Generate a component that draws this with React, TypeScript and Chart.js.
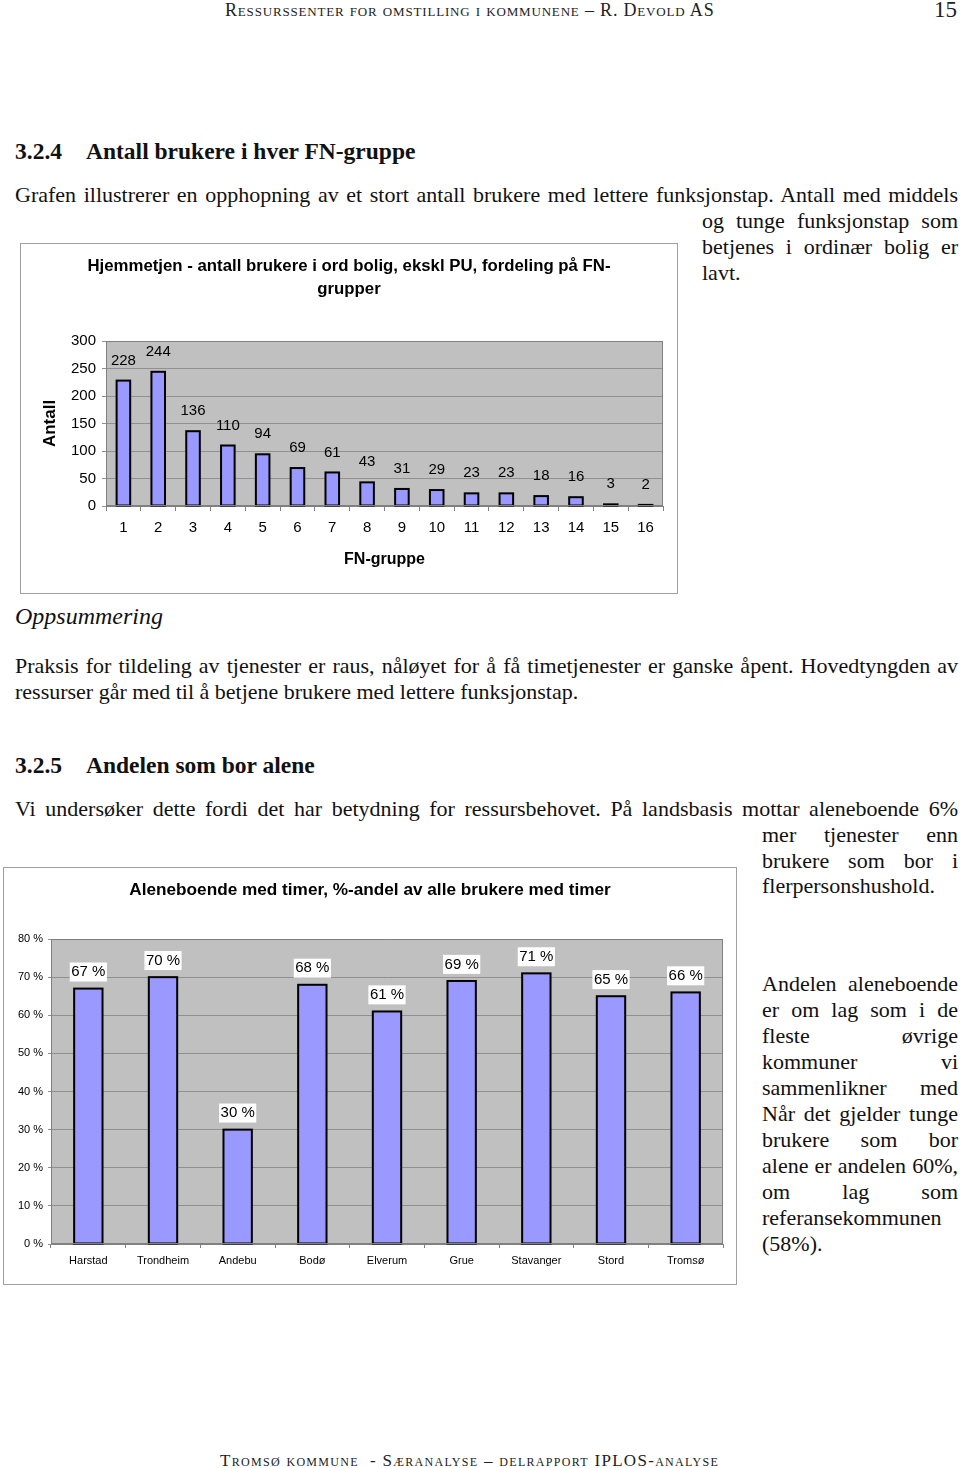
import React, { useEffect, useRef } from "react";
import { Chart, registerables } from "chart.js";

Chart.register(...registerables);

// ---------- Data ----------
const fnGroups = ["1", "2", "3", "4", "5", "6", "7", "8", "9", "10", "11", "12", "13", "14", "15", "16"];
const fnCounts = [228, 244, 136, 110, 94, 69, 61, 43, 31, 29, 23, 23, 18, 16, 3, 2];
const fnTitle = ["Hjemmetjen - antall brukere i ord bolig, ekskl PU, fordeling på FN-", "grupper"];
const fnYTitle = "Antall";
const fnXTitle = "FN-gruppe";

const municipalities = ["Harstad", "Trondheim", "Andebu", "Bodø", "Elverum", "Grue", "Stavanger", "Stord", "Tromsø"];
const aloneShare = [67, 70, 30, 68, 61, 69, 71, 65, 66];
const aloneTitle = "Aleneboende med timer, %-andel av alle brukere med timer";

const AX = "Arial, 'Liberation Sans', Helvetica, sans-serif";
const SERIF = "'Liberation Serif', 'Times New Roman', serif";

const plotBg = {
  id: "plotBg",
  beforeDraw(chart: any) {
    const { ctx, chartArea: a } = chart;
    ctx.save();
    ctx.fillStyle = "#C0C0C0";
    ctx.fillRect(a.left, a.top, a.right - a.left, a.bottom - a.top);
    ctx.restore();
  },
  afterDraw(chart: any) {
    const { ctx, chartArea: a } = chart;
    ctx.save();
    ctx.strokeStyle = "#808080";
    ctx.lineWidth = 1;
    ctx.strokeRect(a.left + 0.5, a.top + 0.5, a.right - a.left - 1, a.bottom - a.top - 1);
    ctx.restore();
  },
};

// Excel-style bar outlines (centred on the bar edge) and value labels
const valueLabels = {
  id: "valueLabels",
  afterDatasetsDraw(chart: any, _args: any, opts: any) {
    const { ctx } = chart;
    const meta = chart.getDatasetMeta(0);
    const data = chart.data.datasets[0].data;
    ctx.save();
    ctx.strokeStyle = "#000000";
    ctx.lineWidth = 2;
    meta.data.forEach((bar: any) => {
      const p = bar.getProps(["x", "y", "base", "width"], true);
      ctx.strokeRect(p.x - p.width / 2, p.y, p.width, p.base - p.y);
    });
    ctx.font = `${opts.size}px ${AX}`;
    ctx.textAlign = "center";
    ctx.textBaseline = "middle";
    meta.data.forEach((bar: any, i: number) => {
      const txt = String(data[i]) + (opts.suffix || "");
      const y = bar.y - opts.offset;
      if (opts.box) {
        const w = ctx.measureText(txt).width + 3;
        ctx.fillStyle = "#FFFFFF";
        ctx.fillRect(bar.x - w / 2, y - 9.5, w, 19);
      }
      ctx.fillStyle = "#000000";
      ctx.fillText(txt, bar.x, y);
    });
    ctx.restore();
  },
};

// an empty right-hand box so the chart title stays centred on the whole frame
const rightSpacer = (w: number) => ({
  type: "linear",
  position: "right",
  display: true,
  grid: { display: false, drawTicks: false },
  ticks: { display: false },
  border: { display: false },
  afterFit: (s: any) => {
    s.width = w;
  },
});

function FnChart() {
  const ref = useRef<HTMLCanvasElement>(null);
  useEffect(() => {
    const chart = new Chart(ref.current!, {
      type: "bar",
      data: {
        labels: fnGroups,
        datasets: [
          {
            data: fnCounts,
            backgroundColor: "#9999FF",
            borderWidth: 0,
            barPercentage: 0.39,
            categoryPercentage: 1,
            yAxisID: "y",
          },
        ],
      },
      options: {
        animation: false,
        responsive: false,
        maintainAspectRatio: false,
        layout: { padding: 0 },
        plugins: {
          legend: { display: false },
          tooltip: { enabled: false },
          title: {
            display: true,
            text: fnTitle,
            color: "#000",
            font: { family: AX, size: 16.8, weight: "bold", lineHeight: 23 / 16.8 },
            padding: { top: 10.5, bottom: 40.5 },
          },
          valueLabels: { size: 15, offset: 20, suffix: "", box: false },
        } as any,
        scales: {
          x: {
            offset: true,
            grid: { offset: true, drawOnChartArea: false, drawTicks: true, tickLength: 5, color: "#808080" },
            border: { color: "#808080" },
            ticks: { color: "#000", font: { family: AX, size: 15 }, padding: 8, maxRotation: 0, autoSkip: false },
            title: {
              display: true,
              text: fnXTitle,
              color: "#000",
              font: { family: AX, size: 16, weight: "bold" },
              padding: { top: 4, bottom: 23.4 },
            },
            afterFit: (s: any) => {
              s.height = 87;
            },
          },
          y: {
            min: 0,
            max: 300,
            ticks: { stepSize: 50, color: "#000", font: { family: AX, size: 15 }, padding: 6 },
            grid: { color: "#909090", tickLength: 4 },
            border: { color: "#808080" },
            title: {
              display: true,
              text: fnYTitle,
              color: "#000",
              font: { family: AX, size: 17, weight: "bold" },
              padding: { top: 19.5, bottom: 0 },
            },
            afterFit: (s: any) => {
              s.width = 85;
            },
          },
          ySpacer: rightSpacer(14),
        },
      } as any,
      plugins: [plotBg, valueLabels],
    });
    return () => chart.destroy();
  }, []);
  return <canvas ref={ref} width={656} height={349} style={{ display: "block" }} />;
}

function AloneChart() {
  const ref = useRef<HTMLCanvasElement>(null);
  useEffect(() => {
    const chart = new Chart(ref.current!, {
      type: "bar",
      data: {
        labels: municipalities,
        datasets: [
          {
            data: aloneShare,
            backgroundColor: "#9999FF",
            borderWidth: 0,
            barPercentage: 0.38,
            categoryPercentage: 1,
            yAxisID: "y",
          },
        ],
      },
      options: {
        animation: false,
        responsive: false,
        maintainAspectRatio: false,
        layout: { padding: 0 },
        plugins: {
          legend: { display: false },
          tooltip: { enabled: false },
          title: {
            display: true,
            text: aloneTitle,
            color: "#000",
            font: { family: AX, size: 17.2, weight: "bold", lineHeight: 1.2 },
            padding: { top: 12.4, bottom: 38 },
          },
          valueLabels: { size: 15, offset: 16.6, suffix: " %", box: true },
        } as any,
        scales: {
          x: {
            offset: true,
            grid: { offset: true, drawOnChartArea: false, drawTicks: true, tickLength: 4, color: "#808080" },
            border: { color: "#808080" },
            ticks: { color: "#000", font: { family: AX, size: 11 }, padding: 6, maxRotation: 0, autoSkip: false },
            afterFit: (s: any) => {
              s.height = 40;
            },
          },
          y: {
            min: 0,
            max: 80,
            ticks: {
              stepSize: 10,
              color: "#000",
              font: { family: AX, size: 11 },
              padding: 5,
              callback: (v: any) => `${v} %`,
            },
            grid: { color: "#909090", tickLength: 3 },
            border: { color: "#808080" },
            afterFit: (s: any) => {
              s.width = 47;
            },
          },
          ySpacer: rightSpacer(13),
        },
      } as any,
      plugins: [plotBg, valueLabels],
    });
    return () => chart.destroy();
  }, []);
  return <canvas ref={ref} width={732} height={416} style={{ display: "block" }} />;
}

type LP = { x: number; y: number; w?: number; j?: boolean; children: React.ReactNode; style?: React.CSSProperties };
function Line({ x, y, w, j, children, style }: LP) {
  return (
    <div
      style={{
        position: "absolute",
        left: x,
        top: y - 13,
        width: w,
        height: 26,
        lineHeight: "26px",
        whiteSpace: w ? "normal" : "nowrap",
        textAlign: j ? "justify" : "left",
        textAlignLast: j ? "justify" : "auto",
        fontFamily: SERIF,
        fontSize: 22,
        color: "#111",
        ...style,
      }}
    >
      {children}
    </div>
  );
}

const H: React.CSSProperties = { fontSize: 23.5, fontWeight: "bold", height: 30, lineHeight: "30px", marginTop: -2 };

export default function App() {
  return (
    <div
      style={{
        position: "absolute",
        left: 0,
        top: 0,
        width: 960,
        height: 1468,
        background: "#fff",
        overflow: "hidden",
      }}
    >
      {/* Header */}
      <div
        style={{
          position: "absolute",
          left: 225,
          top: 0,
          height: 20,
          lineHeight: "20px",
          fontFamily: SERIF,
          fontSize: 18,
          fontVariant: "small-caps",
          letterSpacing: 0.82,
          whiteSpace: "nowrap",
          color: "#222",
        }}
      >
        Ressurssenter for omstilling i kommunene – R. Devold AS
      </div>
      <div
        style={{
          position: "absolute",
          left: 934,
          top: -3,
          height: 26,
          lineHeight: "26px",
          fontFamily: SERIF,
          fontSize: 23,
          color: "#222",
        }}
      >
        15
      </div>

      <Line x={15} y={151} style={H}>3.2.4</Line>
      <Line x={86} y={151} style={H}>Antall brukere i hver FN-gruppe</Line>

      <Line x={15} y={195} w={943} j>
        Grafen illustrerer en opphopning av et stort antall brukere med lettere funksjonstap. Antall med middels
      </Line>
      <Line x={702} y={221} w={256} j>og tunge funksjonstap som</Line>
      <Line x={702} y={247} w={256} j>betjenes i ordinær bolig er</Line>
      <Line x={702} y={273}>lavt.</Line>

      <div
        style={{
          position: "absolute",
          left: 20,
          top: 243,
          width: 656,
          height: 349,
          border: "1px solid #A0A0A0",
          background: "#fff",
        }}
      >
        <FnChart />
      </div>

      <Line x={15} y={616} style={{ fontStyle: "italic", fontSize: 24 }}>Oppsummering</Line>

      <Line x={15} y={666} w={943} j>
        Praksis for tildeling av tjenester er raus, nåløyet for å få timetjenester er ganske åpent. Hovedtyngden av
      </Line>
      <Line x={15} y={692}>ressurser går med til å betjene brukere med lettere funksjonstap.</Line>

      <Line x={15} y={765} style={H}>3.2.5</Line>
      <Line x={86} y={765} style={H}>Andelen som bor alene</Line>

      <Line x={15} y={809} w={943} j>
        Vi undersøker dette fordi det har betydning for ressursbehovet. På landsbasis mottar aleneboende 6%
      </Line>
      <Line x={762} y={835} w={196} j>mer tjenester enn</Line>
      <Line x={762} y={861} w={196} j>brukere som bor i</Line>
      <Line x={762} y={886}>flerpersonshushold.</Line>

      <div
        style={{
          position: "absolute",
          left: 3,
          top: 867,
          width: 732,
          height: 416,
          border: "1px solid #A0A0A0",
          background: "#fff",
        }}
      >
        <AloneChart />
      </div>

      <Line x={762} y={984} w={196} j>Andelen aleneboende</Line>
      <Line x={762} y={1010} w={196} j>er om lag som i de</Line>
      <Line x={762} y={1036} w={196} j>fleste øvrige</Line>
      <Line x={762} y={1062} w={196} j>kommuner vi</Line>
      <Line x={762} y={1088} w={196} j>sammenlikner med</Line>
      <Line x={762} y={1114} w={196} j>Når det gjelder tunge</Line>
      <Line x={762} y={1140} w={196} j>brukere som bor</Line>
      <Line x={762} y={1166} w={196} j>alene er andelen 60%,</Line>
      <Line x={762} y={1192} w={196} j>om lag som</Line>
      <Line x={762} y={1218}>referansekommunen</Line>
      <Line x={762} y={1244}>(58%).</Line>

      {/* Footer */}
      <div
        style={{
          position: "absolute",
          left: 220,
          top: 1451,
          height: 20,
          lineHeight: "20px",
          fontFamily: SERIF,
          fontSize: 17,
          fontVariant: "small-caps",
          letterSpacing: 1.3,
          whiteSpace: "nowrap",
          color: "#222",
        }}
      >
        Tromsø kommune&nbsp; - Særanalyse – delrapport IPLOS-analyse
      </div>
    </div>
  );
}
